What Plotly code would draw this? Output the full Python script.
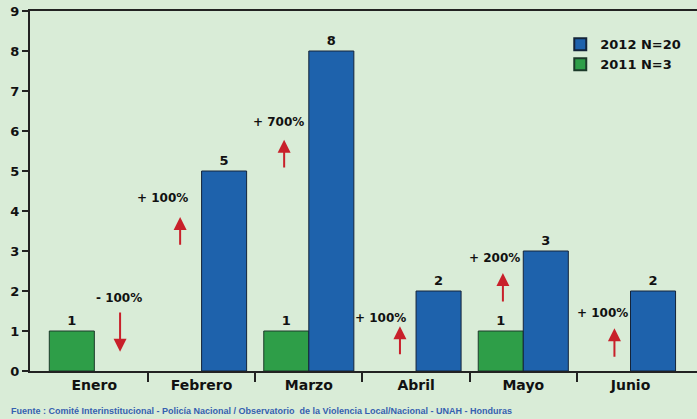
import plotly.graph_objects as go

months = ["Enero", "Febrero", "Marzo", "Abril", "Mayo", "Junio"]
vals_2011 = [1, 0, 1, 0, 1, 0]
vals_2012 = [0, 5, 8, 2, 3, 2]
name_2011 = "2011 N=3"
name_2012 = "2012 N=20"

change_labels = ["- 100%", "+ 100%", "+ 700%", "+ 100%", "+ 200%", "+ 100%"]
label_x = [0.23, 0.64, 1.72, 2.67, 3.73, 4.74]
label_y = [1.82, 4.33, 6.22, 1.32, 2.82, 1.45]
arrow_x = [0.24, 0.80, 1.77, 2.85, 3.81, 4.85]
arrow_from = [1.50, 3.12, 5.05, 0.38, 1.70, 0.32]
arrow_to = [0.48, 3.85, 5.78, 1.12, 2.45, 1.07]

source = "Fuente : Comité Interinstitucional - Policía Nacional / Observatorio  de la Violencia Local/Nacional - UNAH - Honduras"

FONT = "DejaVu Sans"
BG = "#d9ecd7"
XRANGE = [-0.6, 5.62]


def plot_vals(v):
    return [x if x else None for x in v]


fig = go.Figure()
fig.add_trace(go.Bar(
    x=months, y=plot_vals(vals_2011), name="<b>%s</b>" % name_2011,
    marker=dict(color="#2e9e48", line=dict(color="#1c3a2a", width=1)),
    text=[str(v) if v else "" for v in vals_2011], texttemplate="<b>%{text}</b>",
    textposition="outside",
    textfont=dict(family=FONT, size=13, color="#111111"),
    cliponaxis=False,
))
fig.add_trace(go.Bar(
    x=months, y=plot_vals(vals_2012), name="<b>%s</b>" % name_2012,
    marker=dict(color="#1e62ac", line=dict(color="#14243a", width=1)),
    text=[str(v) if v else "" for v in vals_2012], texttemplate="<b>%{text}</b>",
    textposition="outside",
    textfont=dict(family=FONT, size=13, color="#111111"),
    cliponaxis=False,
))
# invisible trace to carry the boundary-tick axis
fig.add_trace(go.Scatter(x=[None], y=[None], xaxis="x2", yaxis="y",
                         showlegend=False, hoverinfo="skip", mode="markers"))

for i in range(len(change_labels)):
    fig.add_annotation(x=label_x[i], y=label_y[i], text="<b>%s</b>" % change_labels[i],
                       showarrow=False, font=dict(family=FONT, size=12, color="#111111"),
                       xref="x", yref="y")
    fig.add_annotation(x=arrow_x[i], y=arrow_to[i], ax=arrow_x[i], ay=arrow_from[i],
                       xref="x", yref="y", axref="x", ayref="y", text="",
                       showarrow=True, arrowhead=2, arrowsize=1.3, arrowwidth=2,
                       arrowcolor="#c8202a")

fig.add_annotation(x=0.0, y=0.0, xref="paper", yref="paper", xanchor="left", yanchor="middle",
                   xshift=-21, yshift=-40, text="<b>%s</b>" % source, showarrow=False,
                   font=dict(family="Liberation Sans Narrow, Liberation Sans, Arial", size=9, color="#3560b0"))

fig.update_layout(
    width=697, height=419,
    margin=dict(l=30, r=0, t=11, b=48, autoexpand=False),
    paper_bgcolor=BG, plot_bgcolor=BG,
    barmode="group", bargap=0.16, bargroupgap=0.0,
    font=dict(family=FONT, color="#111111"),
    legend=dict(x=0.795, y=0.949, xanchor="left", yanchor="top", traceorder="reversed",
                bgcolor="rgba(0,0,0,0)", font=dict(family=FONT, size=13, color="#111111"),
                itemsizing="constant", tracegroupgap=0, itemwidth=30),
    showlegend=True,
    xaxis=dict(type="category", range=XRANGE, ticks="",
               showline=True, linecolor="#222222", linewidth=2, mirror=True,
               showgrid=False, tickfont=dict(family=FONT, size=14, color="#111111"),
               tickprefix="<b>", ticksuffix="</b>"),
    xaxis2=dict(overlaying="x", anchor="y", side="bottom", range=XRANGE,
                tickvals=[i + 0.5 for i in range(len(months) - 1)],
                showticklabels=False, ticks="outside", ticklen=10, tickwidth=2,
                tickcolor="#222222", showgrid=False, showline=False, zeroline=False),
    yaxis=dict(range=[0, 9], dtick=1, ticks="outside", ticklen=6, tickwidth=2,
               tickcolor="#222222", showline=True, linecolor="#222222", linewidth=2,
               showgrid=False, zeroline=False,
               tickfont=dict(family=FONT, size=13, color="#111111"),
               tickprefix="<b>", ticksuffix="</b>"),
)

fig.write_html("out.html", config={"displayModeBar": False},
               post_script="document.body.style.margin='0';document.body.style.background='%s';" % BG)
